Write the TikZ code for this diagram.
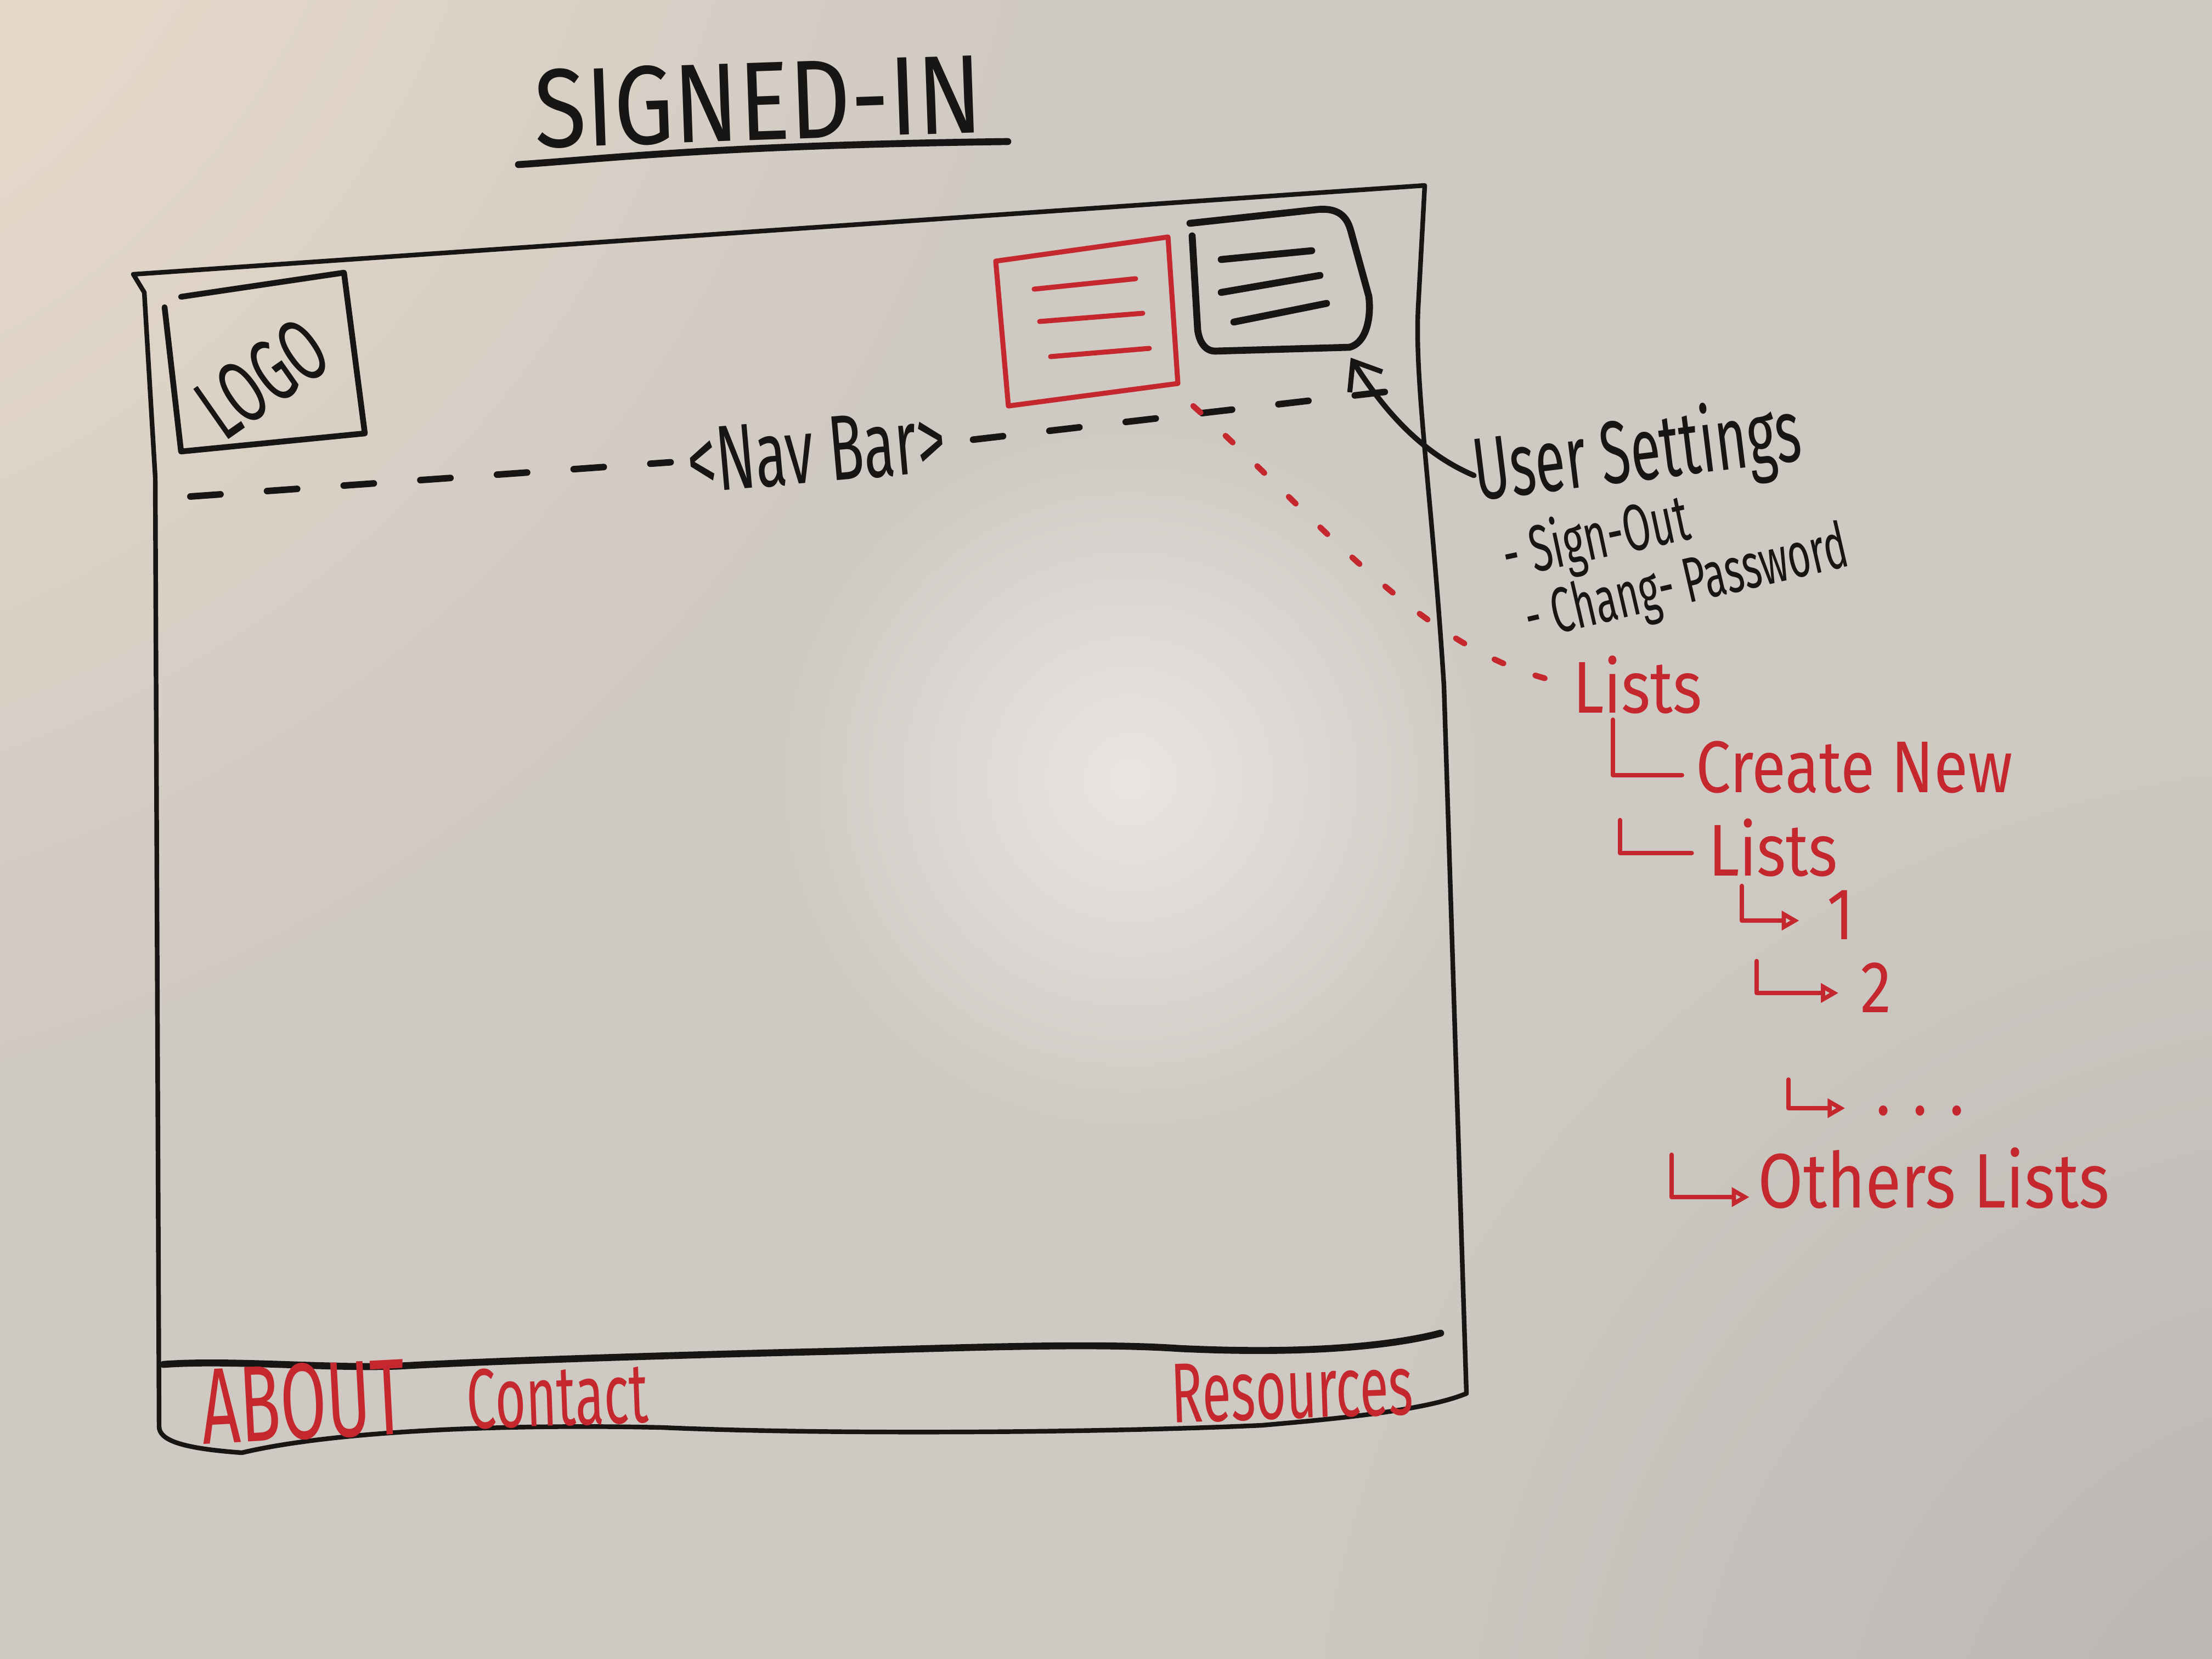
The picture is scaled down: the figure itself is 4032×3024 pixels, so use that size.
\documentclass[tikz,border=0pt]{standalone}
\usepackage{fontspec}
\setmainfont{Fira Sans}[FakeStretch=0.62]
\newfontfamily\widehand{Fira Sans}[FakeStretch=0.85]
\usetikzlibrary{arrows.meta,fadings}

\definecolor{ink}{RGB}{24,21,21}
\definecolor{redink}{RGB}{196,40,46}
\definecolor{board}{RGB}{207,201,195}
\definecolor{warm}{RGB}{242,226,204}
\definecolor{glare}{RGB}{238,236,232}
\definecolor{shadow}{RGB}{184,180,177}

\tikzfading[name=softspot, inner color=transparent!0, outer color=transparent!100]

\tikzset{
  inkline/.style={draw=ink, line width=2.4pt, line cap=round, line join=round},
  thickink/.style={draw=ink, line width=3.6pt, line cap=round, line join=round},
  redline/.style={draw=redink, line width=2.6pt, line cap=round, line join=round},
  navdash/.style={draw=ink, line width=3.4pt, line cap=round, dash pattern=on 0.55cm off 0.85cm},
  reddots/.style={draw=redink, line width=3pt, line cap=round, dash pattern=on 0.18cm off 0.62cm},
  blacktext/.style={text=ink, inner sep=0pt},
  redtext/.style={text=redink, inner sep=0pt},
  treetext/.style={redtext, font=\widehand\fontsize{38}{38}\selectfont},
  treeline/.style={draw=redink, line width=2.4pt, line cap=round, line join=round},
  treearrow/.style={treeline, -{Triangle[open, length=0.32cm, width=0.34cm, line width=2.2pt]}},
}

\begin{document}
\begin{tikzpicture}[x=0.01cm, y=-0.01cm]
\useasboundingbox (0,0) rectangle (4032,3024);

% whiteboard surface
\fill[board] (0,0) rectangle (4032,3024);
\fill[warm, path fading=softspot] (-700,-600) circle[radius=2700];
\fill[shadow, path fading=softspot] (4300,3300) circle[radius=2000];
\fill[glare, path fading=softspot, opacity=0.85] (2060,1420) circle[radius=650];

% title
\node[blacktext, font=\widehand\fontsize{58}{58}\selectfont, rotate=2] (title) at (1382,185) {SIGNED-IN};
\draw[thickink] (945,300) .. controls (1100,290) and (1300,265) .. (1837,258);

% browser frame
\draw[inkline] (243,500) -- (2597,338) -- (2585,560)
  .. controls (2578,700) and (2610,900) .. (2632,1250) -- (2673,2540)
  .. controls (2600,2570) and (2450,2585) .. (2300,2598)
  .. controls (2000,2612) and (1500,2615) .. (1207,2602)
  .. controls (900,2595) and (600,2610) .. (441,2648)
  .. controls (330,2640) and (290,2625) .. (290,2600)
  -- (283,870) -- (263,533) -- cycle;

% footer separator
\draw[thickink] (298,2487) .. controls (420,2478) and (600,2495) .. (728,2490)
  .. controls (900,2480) and (1300,2468) .. (1526,2463)
  .. controls (1800,2455) and (2000,2448) .. (2150,2458)
  .. controls (2400,2470) and (2550,2450) .. (2626,2430);

% logo box
\draw[inkline, line width=3pt] (330,541) -- (627,497) -- (665,790) -- (330,823) -- (300,560);
\node[blacktext, font=\fontsize{46}{46}\selectfont, rotate=35] (logo) at (478,690) {LOGO};

% red menu box
\draw[redline] (1815,476) -- (2129,432) -- (2147,699) -- (1838,740) -- cycle;
\draw[redline] (1885,527) -- (2070,508);
\draw[redline] (1895,586) -- (2083,571);
\draw[redline] (1915,650) -- (2095,635);
\coordinate (redcorner) at (2175,740);

% user menu box
\draw[thickink] (2169,407) -- (2400,382) .. controls (2440,378) and (2455,395) .. (2462,420)
  -- (2495,540) .. controls (2500,580) and (2490,625) .. (2460,633)
  -- (2215,640) .. controls (2195,640) and (2185,620) .. (2183,600) -- (2173,430);
\draw[thickink] (2226,473) -- (2391,457);
\draw[thickink] (2226,533) -- (2406,502);
\draw[thickink] (2249,587) -- (2418,553);
\coordinate (usertip) at (2462,652);

% nav bar marker
\node[blacktext, font=\fontsize{48}{48}\selectfont, rotate=5] (nav) at (1488,822) {<Nav Bar>};
\coordinate (navstart) at (347,905);
\coordinate (navend) at (2545,712);
\draw[navdash] (navstart) -- ([xshift=-0.3cm]nav.west);
\draw[navdash] ([xshift=0.5cm]nav.east) -- (navend);

% user settings annotation
\node[blacktext, font=\fontsize{46}{46}\selectfont, rotate=7] (user) at (2985,830) {User Settings};
\node[blacktext, font=\fontsize{34}{34}\selectfont, rotate=12] (signout) at (2910,985) {- Sign-Out};
\node[blacktext, font=\fontsize{33}{33}\selectfont, rotate=13] (passwd) at (3075,1068) {- Chang- Password};
\draw[inkline, line width=2.8pt, -{Straight Barb[length=0.45cm, width=0.7cm, line width=2.6pt]}]
  (user.west) .. controls (2600,830) and (2530,760) .. (usertip);

% lists tree
\node[treetext] (lists) at (2985,1248) {Lists};
\draw[reddots] (redcorner) .. controls (2420,960) and (2600,1200) .. (lists.west);

\node[treetext] (create) at (3380,1398) {Create New};
\node[treetext] (sublists) at (3232,1545) {Lists};
\node[treetext] (one) at (3355,1668) {1};
\node[treetext] (two) at (3420,1800) {2};
\node[treetext] (more) at (3500,2025) {. . .};
\node[treetext, font=\widehand\fontsize{40}{40}\selectfont] (others) at (3525,2147) {Others Lists};

\coordinate (t1) at (2940,1312);
\coordinate (t2) at (2953,1495);
\coordinate (t3) at (3175,1615);
\coordinate (t4) at (3202,1752);
\coordinate (t5) at (3260,1968);
\coordinate (t6) at (3047,2105);

\draw[treeline] (t1) |- ([xshift=-0.25cm,yshift=-0.15cm]create.west);
\draw[treeline] (t2) |- ([xshift=-0.3cm,yshift=-0.1cm]sublists.west);
\draw[treearrow] (t3) |- ([xshift=-0.5cm,yshift=-0.1cm]one.west);
\draw[treearrow] (t4) |- ([xshift=-0.4cm,yshift=-0.1cm]two.west);
\draw[treearrow] (t5) |- ([xshift=-0.55cm,yshift=0.05cm]more.west);
\draw[treearrow] (t6) |- ([xshift=-0.15cm,yshift=-0.35cm]others.west);

% footer links
\node[redtext, font=\fontsize{56}{56}\selectfont, rotate=3] (about) at (553,2555) {ABOUT};
\node[redtext, font=\fontsize{44}{44}\selectfont, rotate=2] (contact) at (1016,2545) {Contact};
\node[redtext, font=\fontsize{44}{44}\selectfont, rotate=2] (resources) at (2355,2533) {Resources};
\end{tikzpicture}
\end{document}
